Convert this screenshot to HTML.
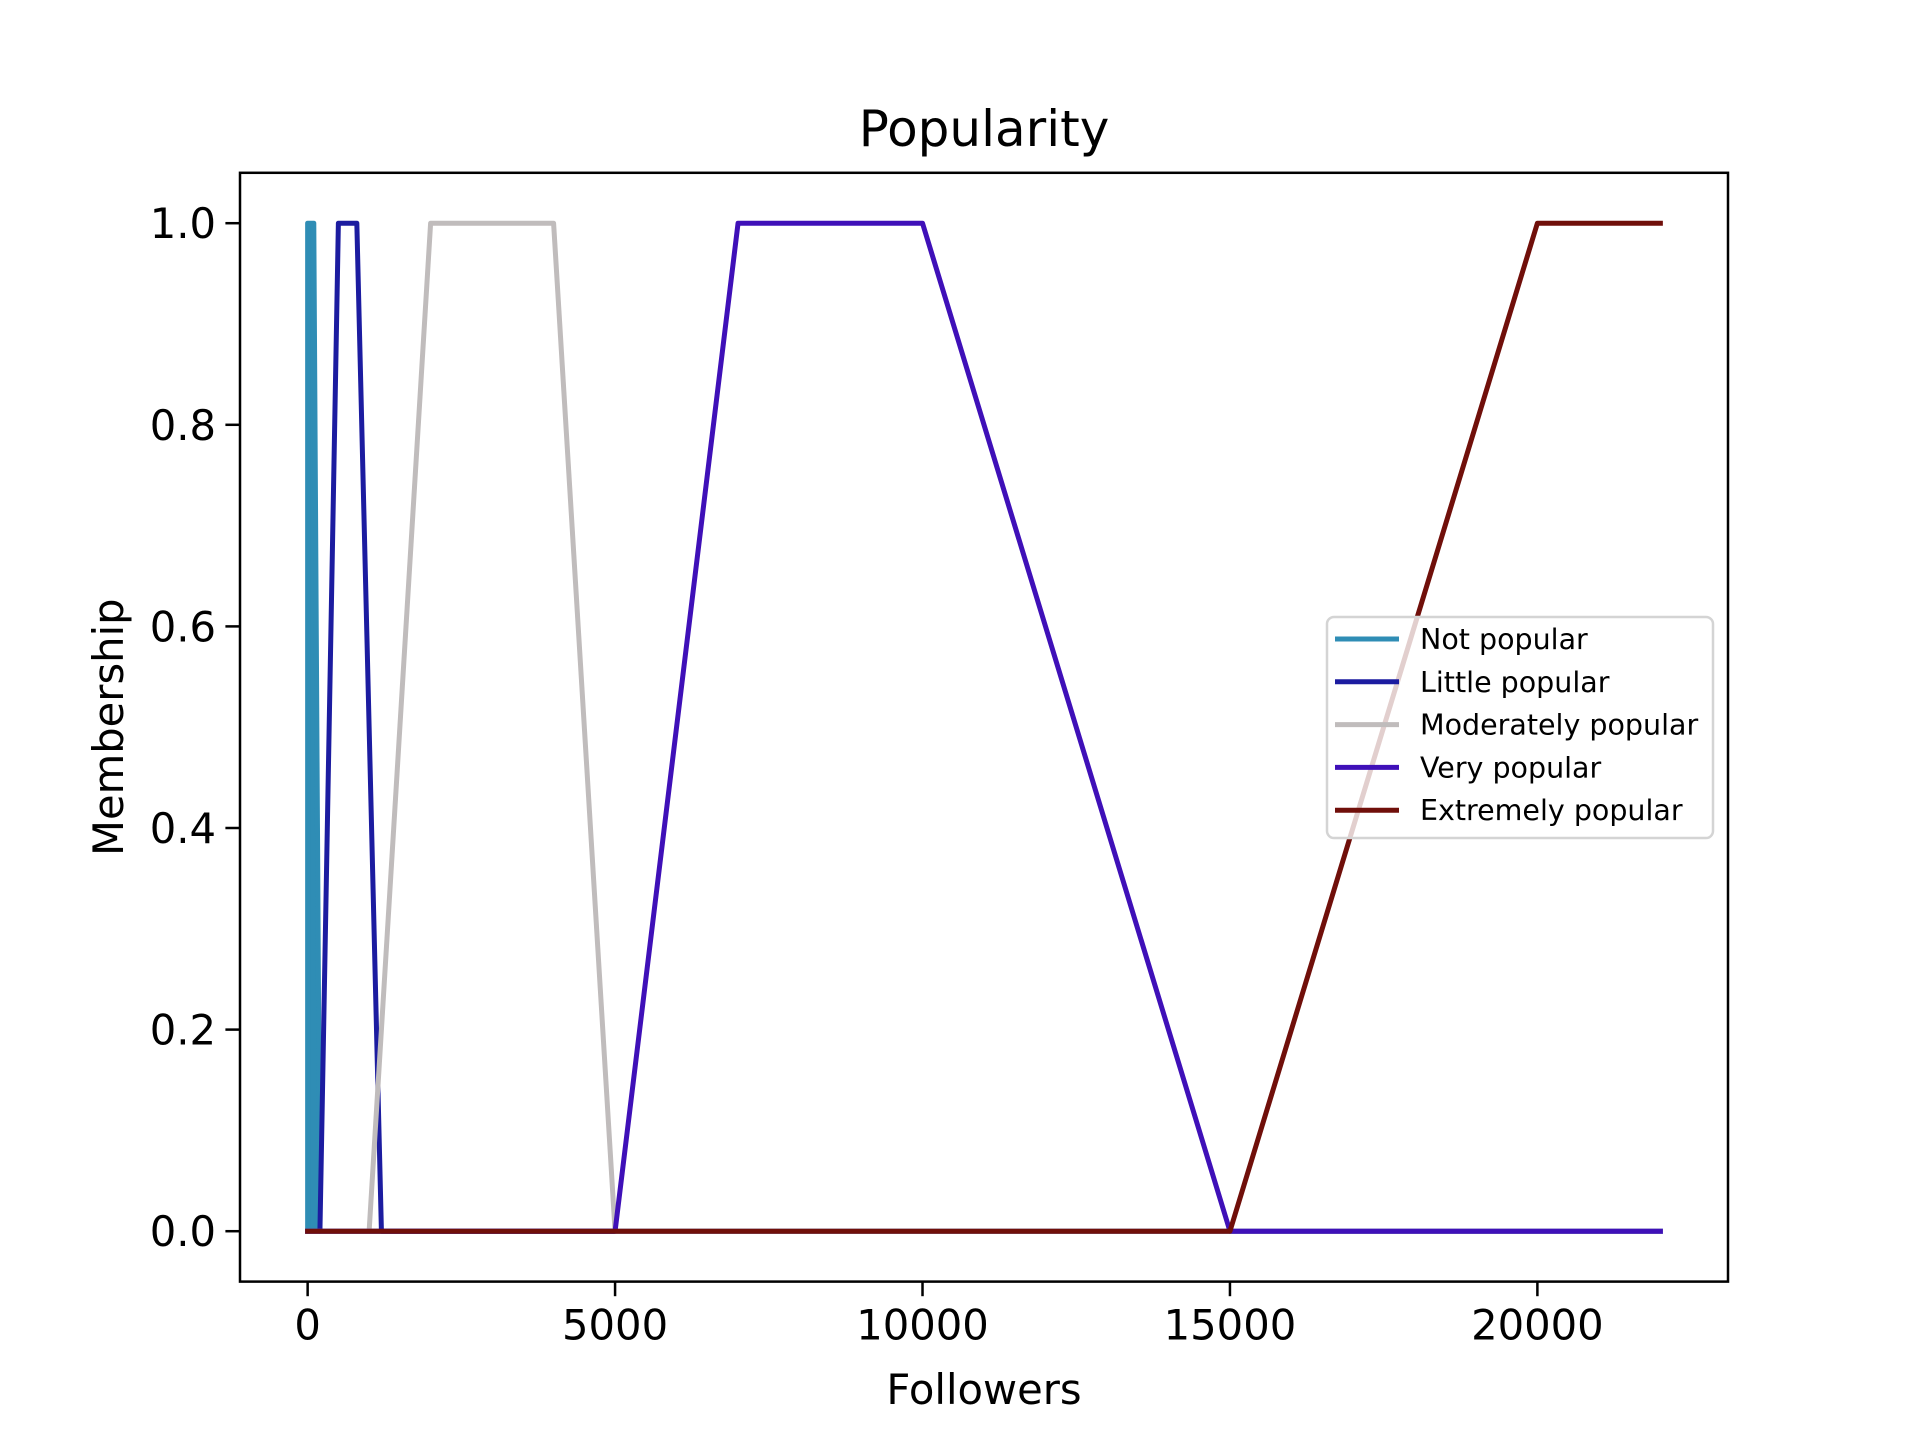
<!DOCTYPE html>
<html><head><meta charset="utf-8"><style>
html,body{margin:0;padding:0;background:#fff;}
svg{display:block;font-family:"DejaVu Sans","Liberation Sans",sans-serif;}
</style></head><body>
<svg id="chart" width="1920" height="1440" viewBox="0 0 1920 1440"></svg>
<script>
const seriesNames = ["Not popular","Little popular","Moderately popular","Very popular","Extremely popular"];
const seriesColors = ["#2f8db5","#1c1ca0","#c0bcbc","#3f10b8","#700f0a"];
const notPopularX = [0,0,100,200,22000];
const notPopularY = [0,1,1,0,0];
const littlePopularX = [0,200,500,800,1200,22000];
const littlePopularY = [0,0,1,1,0,0];
const moderatelyPopularX = [0,1000,2000,4000,5000,22000];
const moderatelyPopularY = [0,0,1,1,0,0];
const veryPopularX = [0,5000,7000,10000,15000,22000];
const veryPopularY = [0,0,1,1,0,0];
const extremelyPopularX = [0,15000,20000,22000];
const extremelyPopularY = [0,0,1,1];
const xTicks = [0,5000,10000,15000,20000];
const yTicks = [0.0,0.2,0.4,0.6,0.8,1.0];

const NS="http://www.w3.org/2000/svg";
const svg=document.getElementById('chart');
const L=240,R=1728,T=172.8,B=1281.6;
const xmin=-1100,xmax=23100,ymin=-0.05,ymax=1.05;
function sx(v){return L+(v-xmin)/(xmax-xmin)*(R-L);}
function sy(v){return B-(v-ymin)/(ymax-ymin)*(B-T);}
function mk(tag,attrs){const e=document.createElementNS(NS,tag);for(const k in attrs)e.setAttribute(k,attrs[k]);svg.appendChild(e);return e;}

const title=mk('text',{x:(L+R)/2,y:146,'text-anchor':'middle','font-size':50});
title.textContent='Popularity';



const xs=[notPopularX,littlePopularX,moderatelyPopularX,veryPopularX,extremelyPopularX];
const ys=[notPopularY,littlePopularY,moderatelyPopularY,veryPopularY,extremelyPopularY];
for(let s=0;s<xs.length;s++){
  const pts=xs[s].map((x,i)=>sx(x).toFixed(2)+','+sy(ys[s][i]).toFixed(2)).join(' ');
  const pl=mk('polyline',{points:pts,fill:s===0?seriesColors[s]:'none',stroke:seriesColors[s],'stroke-width':5,'stroke-linejoin':'round','stroke-linecap':'square'});
  
  
}

const frame=mk('rect',{x:L,y:T,width:R-L,height:B-T,fill:'none',stroke:'#000','stroke-width':2.5});



xTicks.forEach(v=>{
  const t=mk('line',{x1:sx(v),x2:sx(v),y1:B,y2:B+14.6,stroke:'#000','stroke-width':2.5});
  
  
  const tx=mk('text',{x:sx(v),y:B+58,'text-anchor':'middle','font-size':41.7});
  tx.textContent=String(v);
  
  
});
yTicks.forEach(v=>{
  const t=mk('line',{x1:L-14.6,x2:L,y1:sy(v),y2:sy(v),stroke:'#000','stroke-width':2.5});
  
  
  const tx=mk('text',{x:L-24,y:sy(v)+15,'text-anchor':'end','font-size':41.7});
  tx.textContent=v.toFixed(1);
  
  
});
const xl=mk('text',{x:(L+R)/2,y:1404,'text-anchor':'middle','font-size':41.7});
xl.textContent='Followers';


const yl=mk('text',{x:0,y:0,'text-anchor':'middle','font-size':41.7,transform:'translate(123,'+((T+B)/2)+') rotate(-90)'});
yl.textContent='Membership';



const lg=mk('rect',{x:1327,y:617,width:386,height:221,rx:7,fill:'#fff','fill-opacity':0.8,stroke:'#d4d4d4','stroke-width':2.5});


for(let s=0;s<seriesNames.length;s++){
  const y=639+s*42.8;
  const ln=mk('line',{x1:1335,x2:1399,y1:y,y2:y,stroke:seriesColors[s],'stroke-width':5});
  
  
  const tx=mk('text',{x:1420,y:y+10,'font-size':28.5});
  tx.textContent=seriesNames[s];
  
  
}
</script>
</body></html>
